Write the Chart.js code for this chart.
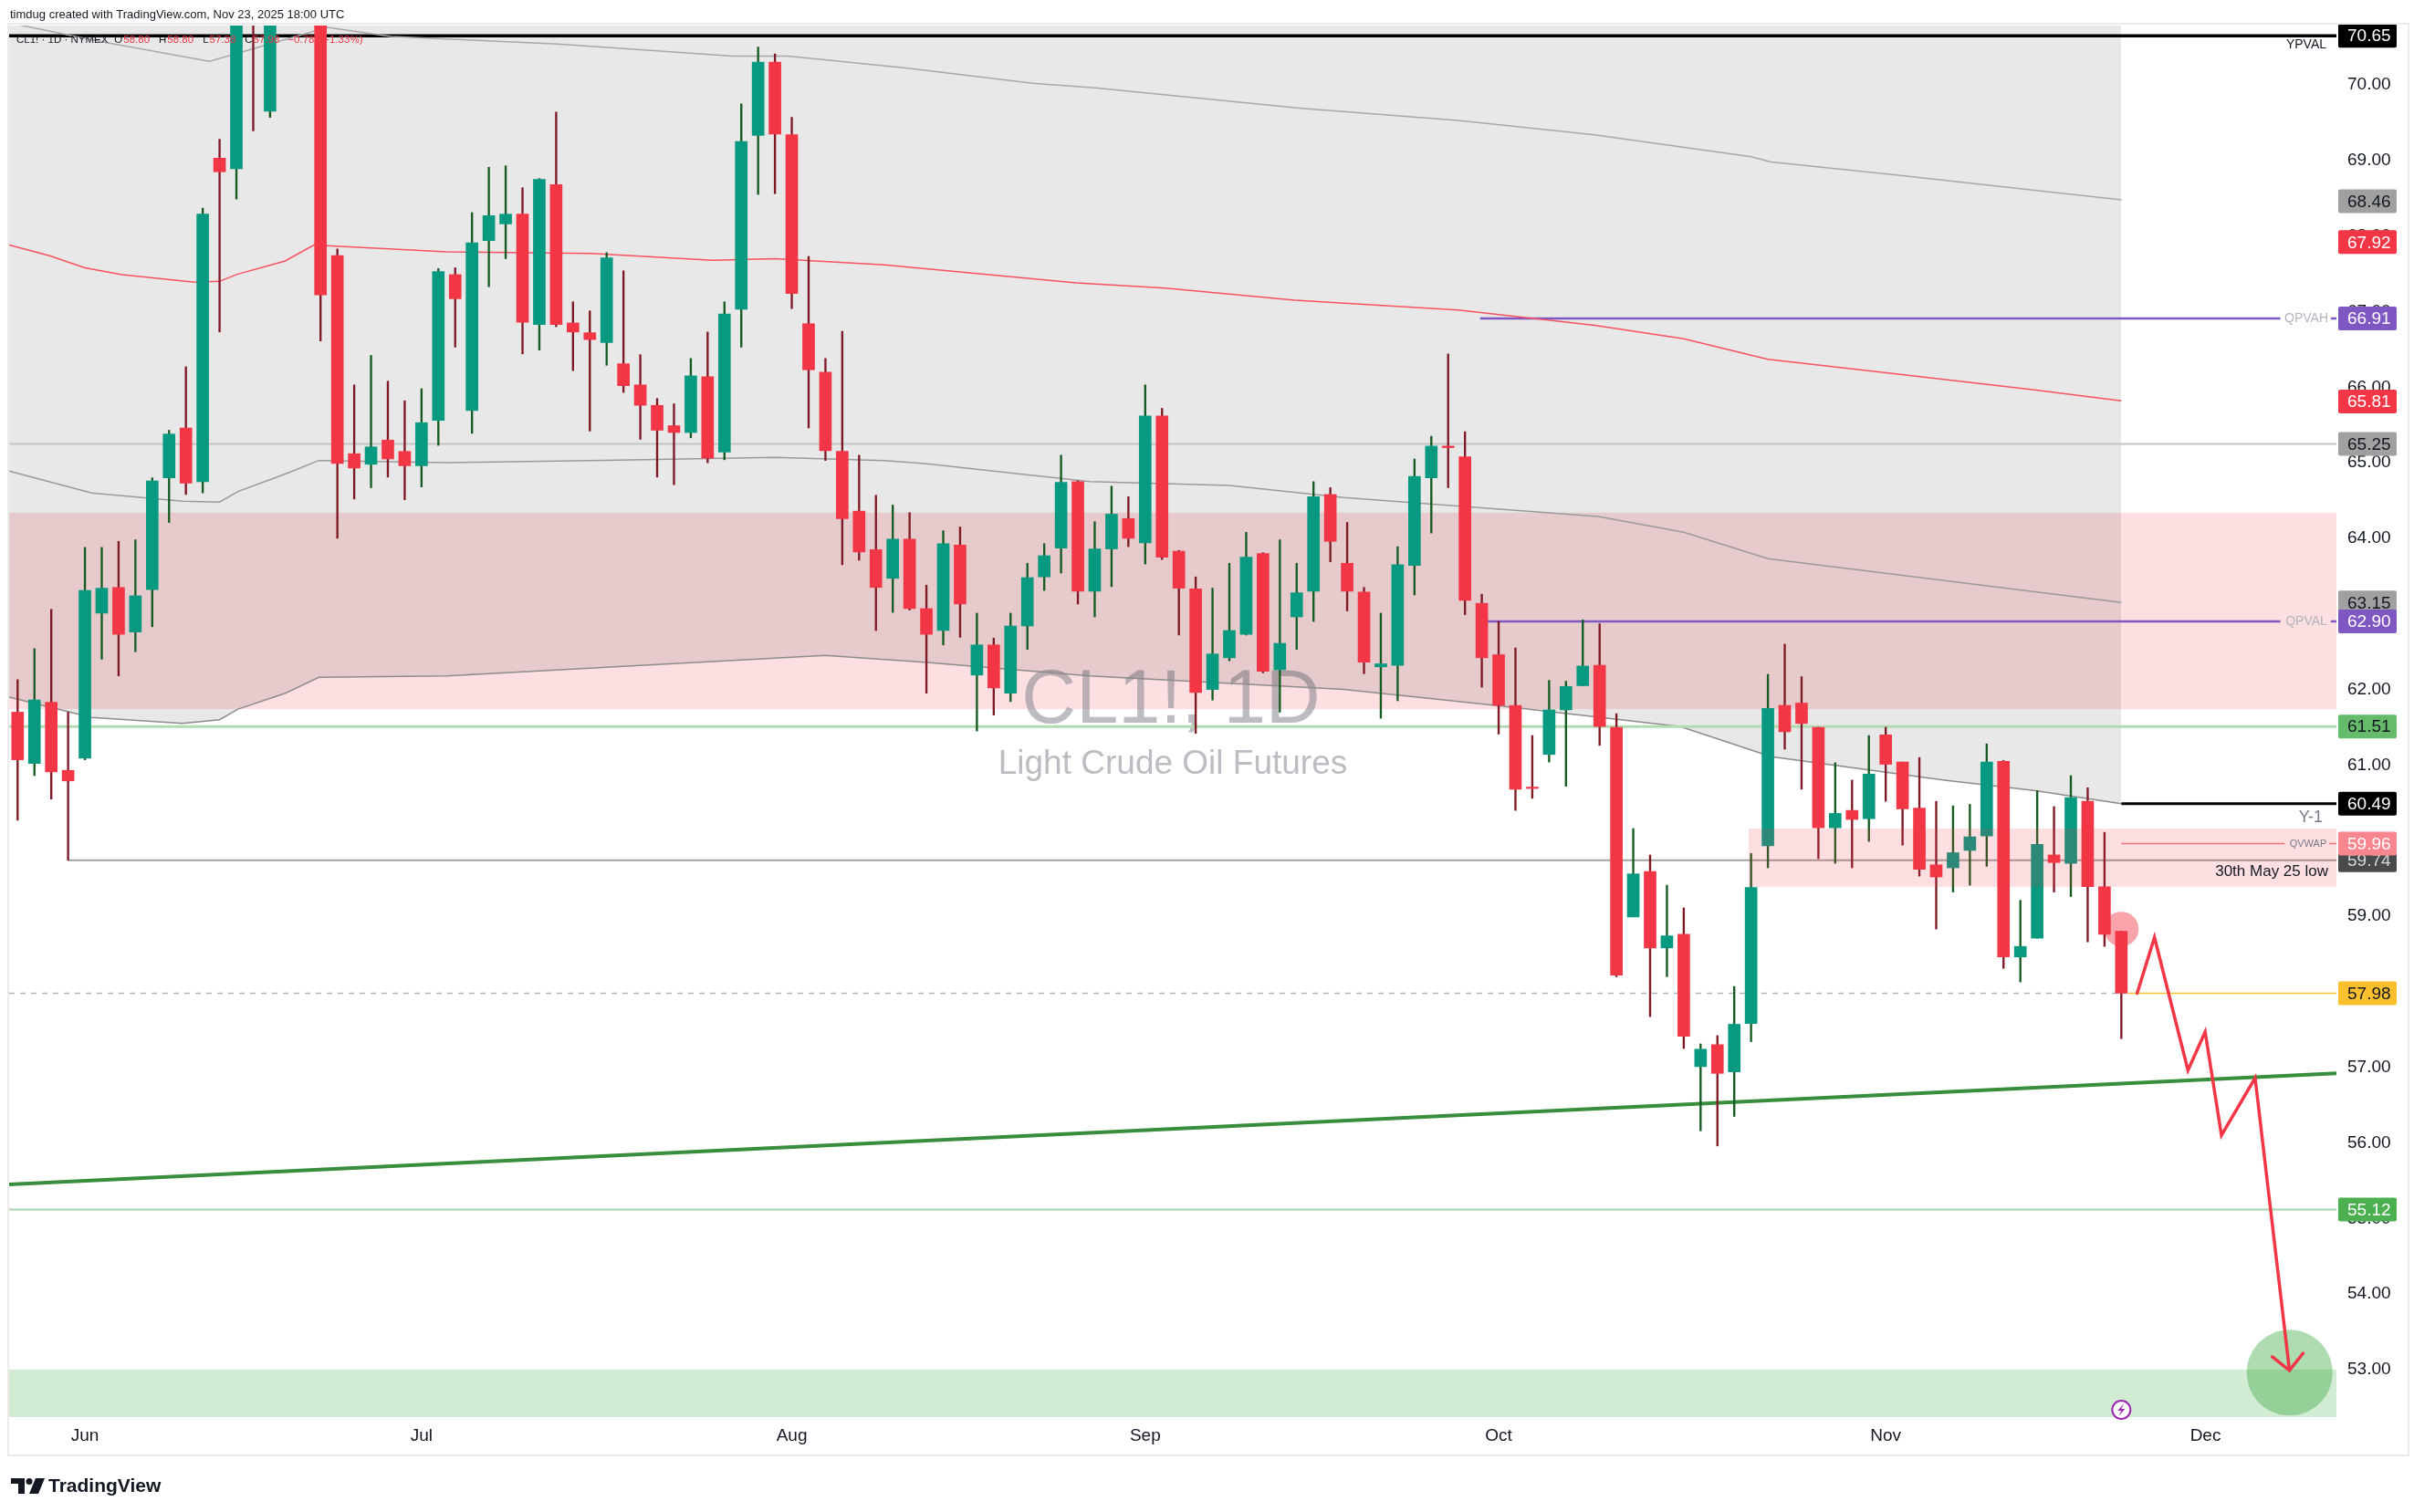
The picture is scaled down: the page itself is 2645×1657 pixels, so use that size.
<!DOCTYPE html>
<html>
<head>
<meta charset="utf-8">
<title>CL1! 1D - Light Crude Oil Futures</title>
<script src="https://cdn.jsdelivr.net/npm/chart.js@4.4.1/dist/chart.umd.min.js"></script>
<style>
  html, body { margin: 0; padding: 0; background: #ffffff; }
  canvas { display: block; }
</style>
</head>
<body>
<canvas id="chart" width="2645" height="1657"></canvas>
<script>
// daily bars, CL1! (NYMEX)
const dates = [
  '2025-05-27','2025-05-28','2025-05-29','2025-05-30',
  '2025-06-02','2025-06-03','2025-06-04','2025-06-05','2025-06-06','2025-06-09','2025-06-10','2025-06-11','2025-06-12','2025-06-13',
  '2025-06-16','2025-06-17','2025-06-18','2025-06-20','2025-06-23','2025-06-24','2025-06-25','2025-06-26','2025-06-27','2025-06-30',
  '2025-07-01','2025-07-02','2025-07-03','2025-07-07','2025-07-08','2025-07-09','2025-07-10','2025-07-11','2025-07-14','2025-07-15','2025-07-16',
  '2025-07-17','2025-07-18','2025-07-21','2025-07-22','2025-07-23','2025-07-24','2025-07-25','2025-07-28','2025-07-29','2025-07-30','2025-07-31',
  '2025-08-01','2025-08-04','2025-08-05','2025-08-06','2025-08-07','2025-08-08','2025-08-11','2025-08-12','2025-08-13','2025-08-14','2025-08-15',
  '2025-08-18','2025-08-19','2025-08-20','2025-08-21','2025-08-22','2025-08-25','2025-08-26','2025-08-27','2025-08-28','2025-08-29',
  '2025-09-02','2025-09-03','2025-09-04','2025-09-05','2025-09-08','2025-09-09','2025-09-10','2025-09-11','2025-09-12','2025-09-15','2025-09-16',
  '2025-09-17','2025-09-18','2025-09-19','2025-09-22','2025-09-23','2025-09-24','2025-09-25','2025-09-26','2025-09-29','2025-09-30',
  '2025-10-01','2025-10-02','2025-10-03','2025-10-06','2025-10-07','2025-10-08','2025-10-09','2025-10-10','2025-10-13','2025-10-14','2025-10-15',
  '2025-10-16','2025-10-17','2025-10-20','2025-10-21','2025-10-22','2025-10-23','2025-10-24','2025-10-27','2025-10-28','2025-10-29','2025-10-30','2025-10-31',
  '2025-11-03','2025-11-04','2025-11-05','2025-11-06','2025-11-07','2025-11-10','2025-11-11','2025-11-12','2025-11-13','2025-11-14',
  '2025-11-17','2025-11-18','2025-11-19','2025-11-20','2025-11-21'
];
const futureDates = ['2025-11-24','2025-11-25','2025-11-26','2025-11-28','2025-12-01'];

const open = [
  61.70, 61.02, 61.83, 60.93,
  61.09, 63.01, 63.35, 62.76, 63.32, 64.80, 65.46, 64.75, 69.03, 68.89, 73.50, 69.65, 74.90, 75.10, 74.00, 67.74, 65.12, 64.98, 65.30, 65.15,
  64.96, 65.56, 67.49, 65.69, 67.94, 68.16, 68.29, 66.83, 68.68, 66.85, 66.72, 66.59, 66.31, 66.03, 65.76, 65.49, 65.40, 66.14, 65.14, 67.03, 69.33, 70.30,
  69.34, 66.84, 66.20, 65.15, 64.36, 63.85, 63.47, 63.99, 63.07, 62.78, 63.91, 62.19, 62.59, 61.95, 62.84, 63.49, 63.87, 64.75, 63.30, 63.86, 64.26,
  63.94, 65.62, 63.83, 63.33, 62.00, 62.42, 62.73, 63.80, 62.26, 62.96, 63.30, 64.58, 63.67, 63.29, 62.30, 62.32, 63.64, 64.80, 65.22, 65.08, 63.14,
  62.46, 61.79, 60.70, 61.14, 61.73, 62.05, 62.32, 61.50, 58.99, 59.59, 58.58, 58.76, 57.01, 57.30, 56.94, 57.58, 59.93, 61.79, 61.82, 61.50, 60.17, 60.40, 60.29,
  61.40, 61.04, 60.43, 59.68, 59.64, 59.87, 60.06, 61.05, 58.46, 58.71, 59.81, 59.70, 60.52, 59.39, 58.80
];
const high = [
  62.13, 62.54, 63.06, 61.70,
  63.88, 63.88, 63.96, 63.98, 64.80, 65.43, 66.27, 68.37, 69.28, 77.60, 73.90, 75.00, 75.70, 75.60, 78.40, 67.83, 66.03, 66.42, 66.08, 65.82,
  65.98, 67.57, 67.58, 68.31, 68.91, 68.93, 68.64, 68.76, 69.64, 67.13, 67.01, 67.78, 67.54, 66.43, 65.85, 65.78, 66.38, 66.73, 67.13, 69.75, 70.50, 70.41,
  69.57, 67.73, 66.38, 66.74, 65.10, 64.57, 64.44, 64.34, 63.38, 64.10, 64.15, 63.01, 62.68, 63.01, 63.67, 63.93, 65.10, 64.76, 64.22, 64.69, 64.55,
  66.03, 65.72, 63.84, 63.49, 63.34, 63.67, 64.08, 63.81, 63.98, 63.67, 64.75, 64.67, 64.21, 63.35, 63.01, 63.89, 65.05, 65.35, 66.44, 65.41, 63.26,
  62.90, 62.55, 61.39, 62.12, 62.11, 62.92, 62.87, 61.68, 60.16, 59.81, 59.41, 59.11, 57.31, 57.42, 58.07, 59.83, 62.20, 62.60, 62.17, 61.50, 61.03, 60.80, 61.39,
  61.50, 61.04, 61.10, 60.52, 60.46, 60.48, 61.28, 61.06, 59.21, 60.66, 60.45, 60.86, 60.70, 60.11, 58.80
];
const low = [
  60.27, 60.86, 60.55, 59.74,
  61.07, 62.40, 62.18, 62.50, 62.83, 64.21, 64.58, 64.60, 66.73, 68.49, 69.39, 69.57, 73.20, 72.90, 66.61, 64.00, 64.52, 64.67, 64.81, 64.51,
  64.68, 65.23, 66.53, 65.39, 67.33, 67.70, 66.44, 66.49, 66.80, 66.22, 65.42, 66.29, 65.93, 65.31, 64.81, 64.71, 65.33, 65.00, 65.04, 66.53, 68.55, 68.56,
  67.04, 65.46, 65.03, 63.65, 63.71, 62.78, 63.02, 63.05, 61.95, 62.59, 62.69, 61.45, 61.66, 61.84, 62.53, 63.31, 63.54, 63.13, 62.96, 63.36, 63.89,
  63.66, 63.72, 62.72, 61.42, 61.86, 62.38, 62.72, 62.22, 61.70, 62.53, 62.90, 63.69, 63.04, 62.21, 61.62, 61.85, 63.25, 64.07, 64.67, 62.99, 62.03,
  61.41, 60.40, 60.56, 61.04, 60.72, 62.05, 61.26, 58.20, 58.99, 57.67, 58.20, 57.25, 56.16, 55.96, 56.35, 57.34, 59.64, 61.21, 60.68, 59.76, 59.70, 59.64, 59.99,
  60.52, 59.94, 59.53, 58.83, 59.32, 59.41, 59.66, 58.31, 58.13, 58.71, 59.32, 59.26, 58.66, 58.60, 57.38
];
const close = [
  61.07, 61.86, 60.91, 60.79,
  63.31, 63.34, 62.73, 63.24, 64.76, 65.38, 64.73, 68.29, 68.85, 72.98, 71.00, 74.84, 75.14, 73.84, 67.22, 64.99, 64.93, 65.21, 65.05, 64.96,
  65.53, 67.53, 67.17, 67.91, 68.27, 68.29, 66.86, 68.75, 66.83, 66.73, 66.63, 67.71, 66.02, 65.76, 65.43, 65.40, 66.15, 65.06, 66.97, 69.25, 70.30, 69.35,
  67.24, 66.23, 65.16, 64.26, 63.82, 63.35, 63.99, 63.07, 62.73, 63.93, 63.13, 62.59, 62.02, 62.84, 63.48, 63.77, 64.74, 63.30, 63.86, 64.32, 64.00,
  65.62, 63.75, 63.34, 61.96, 62.47, 62.78, 63.75, 62.24, 62.61, 63.28, 64.55, 63.96, 63.30, 62.36, 62.34, 63.65, 64.82, 65.22, 65.20, 63.18, 62.42,
  61.79, 60.68, 60.69, 61.73, 62.04, 62.31, 61.51, 58.22, 59.56, 58.58, 58.74, 57.41, 57.24, 56.92, 57.57, 59.38, 61.75, 61.44, 61.55, 60.17, 60.36, 60.28, 60.88,
  61.01, 60.42, 59.62, 59.52, 59.84, 60.05, 61.04, 58.46, 58.60, 59.95, 59.71, 60.57, 59.39, 58.76, 57.98
];

const monthKeys = ['06', '07', '08', '09', '10', '11', '12'];
const monthLabels = ['Jun', 'Jul', 'Aug', 'Sep', 'Oct', 'Nov', 'Dec'];
const priceTicks = [53, 54, 55, 56, 57, 58, 59, 60, 61, 62, 63, 64, 65, 66, 67, 68, 69, 70];

// indicator curves as [bar index, price]
const upperBand = [[-0.5, 70.82], [5, 70.57], [11.4, 70.31], [18.4, 70.76], [22.2, 70.64], [32.1, 70.54], [42.5, 70.38], [45.8, 70.38],
  [52.9, 70.22], [60.3, 70.02], [64, 69.96], [76.3, 69.69], [85.6, 69.53], [93.7, 69.34], [103, 69.05], [104.2, 68.98], [111.5, 68.81], [125, 68.48]];
const midBand = [[-0.5, 64.89], [4.4, 64.60], [9.8, 64.49], [12, 64.48], [13.1, 64.62], [15.9, 64.85], [17.9, 65.03], [25.5, 65.00], [34, 65.03],
  [45, 65.07], [51.5, 65.03], [53.9, 64.99], [63.7, 64.75], [72, 64.70], [78.8, 64.54], [93.9, 64.29], [99, 64.08], [104, 63.73], [125, 63.15]];
const lowerBand = [[-0.5, 61.90], [4.4, 61.63], [9.8, 61.55], [12, 61.60], [13.1, 61.74], [15.9, 61.95], [17.9, 62.16], [25.5, 62.18], [48, 62.45],
  [53.9, 62.36], [63.7, 62.18], [78.8, 62.00], [87.8, 61.79], [98.8, 61.51], [104.2, 61.11], [114.5, 60.80], [119.9, 60.66], [125, 60.49]];
const redMA = [[-0.5, 67.88], [1.9, 67.74], [4, 67.58], [6.2, 67.49], [10.5, 67.39], [12, 67.40], [13, 67.49], [15.9, 67.67], [17.6, 67.88],
  [25.5, 67.79], [34.1, 67.77], [41.3, 67.68], [45, 67.70], [51.5, 67.62], [62.9, 67.38], [68.2, 67.31], [75.9, 67.15], [85.6, 67.02],
  [93.7, 66.82], [99, 66.64], [104, 66.37], [111.5, 66.18], [119.6, 65.97], [125, 65.82]];

// drawn levels
const YPVAL = 70.65, QPVAH = 66.91, LEVEL_6525 = 65.25, QPVAL = 62.90, SUPPORT_HI = 61.51;
const Y1 = 60.49, QVWAP = 59.96, MAY30_LOW = 59.74, SUPPORT_LO = 55.12;
const lastClose = close[close.length - 1];

const supplyZone = [61.74, 64.34];
const vwapZone = [59.39, 60.16];
const targetTop = 53.0;
const trendLine = [[-0.5, 55.45], [137.78, 56.92]];

// projected path (bar index, price)
const pathX = [125.94, 126.97, 128.96, 129.98, 130.95, 132.95, 134.99];
const pathY = [57.98, 58.72, 56.96, 57.47, 56.10, 56.86, 52.99];
const pinkDot = [125.0, 58.83];
const targetDot = [135.0, 52.96];

const tagValues = [70.65, 68.46, 67.92, 66.91, 65.81, 65.25, 63.15, 62.90, 61.51, 60.49, 59.74, 59.96, 57.98, 55.12];

// ---- styles ----
const UP = '#089981', DOWN = '#f23645';
const UP_WICK = '#165c22', DOWN_WICK = '#7f1a24';
const tagStyle = {
  '70.65': ['#000000', '#ffffff'], '68.46': ['#a0a0a0', '#131722'], '67.92': ['#f23645', '#ffffff'],
  '66.91': ['#7e57c2', '#ffffff'], '65.81': ['#f23645', '#ffffff'], '65.25': ['#a0a0a0', '#131722'],
  '63.15': ['#a0a0a0', '#131722'], '62.90': ['#7e57c2', '#ffffff'], '61.51': ['#66bb6a', '#131722'],
  '60.49': ['#000000', '#ffffff'], '59.74': ['#4a4a4a', '#d8d8d8'], '59.96': ['#f7868e', '#ffffff'],
  '57.98': ['#fbc02d', '#131722'], '55.12': ['#4caf50', '#ffffff']
};
const FONT = '"Liberation Sans", Arial, sans-serif';
const X_MIN = -0.504, X_MAX = 137.78, Y_MIN = 52.372, Y_MAX = 70.785;

const allDates = dates.concat(futureDates);
const monthTickIdx = monthKeys.map(m => allDates.findIndex(d => d.slice(5, 7) === m));

function pts(arr) { return arr.map(p => ({x: p[0], y: p[1]})); }
function seg(y, x0, x1) { return [{x: x0, y: y}, {x: x1, y: y}]; }
function lineDs(data, color, width, extra) {
  return Object.assign({
    type: 'line', data: data, borderColor: color, borderWidth: width,
    pointRadius: 0, fill: false, tension: 0, clip: 0, order: 5
  }, extra || {});
}

const datasets = [
  lineDs(pts(lowerBand), '#8c8c8c', 1.5, {fill: 'end', backgroundColor: 'rgba(0,0,0,0.09)', order: 10}),
  lineDs(pts(midBand), '#9a9a9a', 1.5),
  lineDs(pts(upperBand), '#a8a8a8', 1.5),
  lineDs(pts(redMA), '#f7525f', 1.5),
  lineDs(seg(LEVEL_6525, X_MIN, X_MAX), '#c4c4c4', 2),
  lineDs(seg(SUPPORT_HI, X_MIN, X_MAX), '#b2dbb3', 3),
  lineDs(seg(SUPPORT_LO, X_MIN, X_MAX), '#a5d6a7', 2),
  lineDs(seg(MAY30_LOW, 3, X_MAX), '#a2a2a2', 2),
  lineDs(seg(YPVAL, X_MIN, X_MAX), '#000000', 3.5),
  lineDs([...seg(QPVAH, 86.9, 134.45), {x: 136, y: null}, ...seg(QPVAH, 137.45, X_MAX)], '#7e57c2', 2.5),
  lineDs([...seg(QPVAL, 87.3, 134.45), {x: 136, y: null}, ...seg(QPVAL, 137.45, X_MAX)], '#7e57c2', 2.5),
  lineDs(seg(Y1, 125, X_MAX), '#000000', 3),
  lineDs([...seg(QVWAP, 125, 134.7), {x: 136, y: null}, ...seg(QVWAP, 137.35, X_MAX)], '#f77c80', 1.5),
  lineDs(seg(lastClose, X_MIN, 125.3), '#b2b5be', 1.5, {borderDash: [6, 6]}),
  lineDs(seg(lastClose, 125.4, X_MAX), '#fbc02d', 1.5),
  lineDs(pts(trendLine), '#388e3c', 4),
  {
    type: 'bar',
    data: low.map((l, i) => ({x: i, y: [l, high[i]]})),
    backgroundColor: ctx => close[ctx.dataIndex] >= open[ctx.dataIndex] ? UP_WICK : DOWN_WICK,
    barThickness: 1.7, grouped: false, clip: 0, order: 2
  },
  {
    type: 'bar',
    data: open.map((o, i) => ({x: i, y: [o, close[i]]})),
    backgroundColor: ctx => close[ctx.dataIndex] >= open[ctx.dataIndex] ? UP : DOWN,
    barThickness: 13, grouped: false, minBarLength: 1.5, clip: 0, order: 1
  },
  lineDs(pathX.map((x, i) => ({x: x, y: pathY[i]})), '#f23645', 3.5, {order: 0, borderCapStyle: 'round', borderJoinStyle: 'miter'})
];

function roundRect(ctx, x, y, w, h, r) {
  ctx.beginPath();
  ctx.moveTo(x + r, y);
  ctx.arcTo(x + w, y, x + w, y + h, r);
  ctx.arcTo(x + w, y + h, x, y + h, r);
  ctx.arcTo(x, y + h, x, y, r);
  ctx.arcTo(x, y, x + w, y, r);
  ctx.closePath();
}

const overlay = {
  id: 'overlay',
  beforeDraw(chart) {
    const ctx = chart.ctx;
    ctx.save();
    ctx.fillStyle = '#ffffff';
    ctx.fillRect(0, 0, chart.width, chart.height);
    ctx.restore();
  },
  beforeDatasetsDraw(chart) {
    const {ctx, chartArea: a, scales: {x, y}} = chart;
    ctx.save();
    // supply zone
    const zt = y.getPixelForValue(supplyZone[1]), zb = y.getPixelForValue(supplyZone[0]);
    ctx.fillStyle = 'rgba(242,54,69,0.16)';
    ctx.fillRect(a.left, zt, a.width, zb - zt);
    // target zone
    const tt = y.getPixelForValue(targetTop);
    ctx.fillStyle = 'rgba(76,175,80,0.25)';
    ctx.fillRect(a.left, tt, a.width, a.bottom - tt);
    // watermark
    const cx = (a.left + a.right) / 2;
    ctx.fillStyle = 'rgba(120,123,134,0.5)';
    ctx.textAlign = 'center';
    ctx.textBaseline = 'alphabetic';
    ctx.font = '83px ' + FONT;
    ctx.fillText('CL1!, 1D', cx - 2, 792);
    ctx.font = '37px ' + FONT;
    ctx.fillText('Light Crude Oil Futures', cx, 848);
    // markers
    ctx.fillStyle = 'rgba(242,54,69,0.45)';
    ctx.beginPath();
    ctx.arc(x.getPixelForValue(pinkDot[0]), y.getPixelForValue(pinkDot[1]), 19, 0, Math.PI * 2);
    ctx.fill();
    ctx.fillStyle = 'rgba(76,175,80,0.45)';
    ctx.beginPath();
    ctx.arc(x.getPixelForValue(targetDot[0]), y.getPixelForValue(targetDot[1]), 47, 0, Math.PI * 2);
    ctx.fill();
    ctx.restore();
  },
  afterDatasetsDraw(chart) {
    const {ctx, chartArea: a, scales: {x, y}} = chart;
    ctx.save();
    // QVWAP band drawn above the candles
    const vt = y.getPixelForValue(vwapZone[1]), vb = y.getPixelForValue(vwapZone[0]);
    const vl = x.getPixelForValue(102.85);
    ctx.fillStyle = 'rgba(242,54,69,0.16)';
    ctx.fillRect(vl, vt, a.right - vl, vb - vt);

    // arrow head at the end of the projected path
    const n = pathX.length;
    const tx = x.getPixelForValue(pathX[n - 1]), ty = y.getPixelForValue(pathY[n - 1]);
    const px = x.getPixelForValue(pathX[n - 2]), py = y.getPixelForValue(pathY[n - 2]);
    const ang = Math.atan2(py - ty, px - tx);
    ctx.strokeStyle = '#f23645';
    ctx.lineWidth = 3.5;
    ctx.lineCap = 'round';
    ctx.beginPath();
    ctx.moveTo(tx + 24 * Math.cos(ang + Math.PI / 4), ty + 24 * Math.sin(ang + Math.PI / 4));
    ctx.lineTo(tx, ty);
    ctx.lineTo(tx + 24 * Math.cos(ang - Math.PI / 4), ty + 24 * Math.sin(ang - Math.PI / 4));
    ctx.stroke();

    // inline labels
    ctx.textBaseline = 'middle';
    ctx.textAlign = 'right';
    ctx.fillStyle = '#131722';
    ctx.font = '14px ' + FONT;
    ctx.fillText('YPVAL', a.right - 11, y.getPixelForValue(YPVAL) + 10);
    ctx.textAlign = 'center';
    ctx.fillStyle = '#b2b5be';
    ctx.fillText('QPVAH', a.right - 33, y.getPixelForValue(QPVAH));
    ctx.fillText('QPVAL', a.right - 33, y.getPixelForValue(QPVAL));
    ctx.fillStyle = '#787b86';
    ctx.font = '11px ' + FONT;
    ctx.fillText('QVWAP', a.right - 31, y.getPixelForValue(QVWAP));
    ctx.textAlign = 'right';
    ctx.font = '18px ' + FONT;
    ctx.fillText('Y-1', a.right - 15, y.getPixelForValue(Y1) + 15);
    ctx.fillStyle = '#131722';
    ctx.font = '17px ' + FONT;
    ctx.fillText('30th May 25 low', a.right - 9, y.getPixelForValue(MAY30_LOW) + 13);

    // event marker on the last bar
    const ex = x.getPixelForValue(125), ey = a.bottom - 8;
    ctx.strokeStyle = '#9c27b0';
    ctx.fillStyle = '#ffffff';
    ctx.lineWidth = 2;
    ctx.beginPath();
    ctx.arc(ex, ey, 10, 0, Math.PI * 2);
    ctx.fill();
    ctx.stroke();
    ctx.fillStyle = '#9c27b0';
    ctx.beginPath();
    ctx.moveTo(ex + 3, ey - 7);
    ctx.lineTo(ex - 4, ey + 1);
    ctx.lineTo(ex, ey + 1);
    ctx.lineTo(ex - 3, ey + 7);
    ctx.lineTo(ex + 4, ey - 1);
    ctx.lineTo(ex, ey - 1);
    ctx.closePath();
    ctx.fill();
    ctx.restore();
  },
  afterDraw(chart) {
    const {ctx, chartArea: a, scales: {y}} = chart;
    ctx.save();
    // price tags on the right axis
    ctx.font = '19px ' + FONT;
    ctx.textBaseline = 'middle';
    ctx.textAlign = 'left';
    tagValues.forEach(v => {
      const label = v.toFixed(2);
      const [bg, fg] = tagStyle[label];
      const py = y.getPixelForValue(v);
      ctx.fillStyle = bg;
      roundRect(ctx, a.right + 2, py - 13, 64, 26, 2);
      ctx.fill();
      ctx.fillStyle = fg;
      ctx.fillText(label, a.right + 12, py + 1);
    });

    // header line
    ctx.fillStyle = '#131722';
    ctx.font = '13px ' + FONT;
    ctx.fillText('timdug created with TradingView.com, Nov 23, 2025 18:00 UTC', 11, 16);

    // symbol legend
    const last = close.length - 1;
    const chg = close[last] - close[last - 1];
    const pct = chg / close[last - 1] * 100;
    const items = [
      ['CL1! \u00b7 1D \u00b7 NYMEX', '#131722', 7],
      ['O', '#131722', 1], [open[last].toFixed(2), DOWN, 10],
      ['H', '#131722', 1], [high[last].toFixed(2), DOWN, 10],
      ['L', '#131722', 1], [low[last].toFixed(2), DOWN, 10],
      ['C', '#131722', 1], [close[last].toFixed(2), DOWN, 9],
      ['\u2212' + Math.abs(chg).toFixed(2), DOWN, 6],
      ['(\u2212' + Math.abs(pct).toFixed(2) + '%)', DOWN, 0]
    ];
    ctx.font = '11.5px ' + FONT;
    let lx = 18;
    items.forEach(([t, c, gap]) => {
      ctx.fillStyle = c;
      ctx.fillText(t, lx, 44);
      lx += ctx.measureText(t).width + gap;
    });

    // outer frame
    ctx.strokeStyle = '#ebebeb';
    ctx.lineWidth = 2;
    ctx.strokeRect(9, 26, 2630, 1569);

    // TradingView logo
    ctx.fillStyle = '#131722';
    ctx.fillRect(12, 1620, 15, 6);
    ctx.fillRect(20, 1620, 7, 17);
    ctx.beginPath();
    ctx.arc(32, 1623.5, 3.5, 0, Math.PI * 2);
    ctx.fill();
    ctx.beginPath();
    ctx.moveTo(39, 1620);
    ctx.lineTo(49, 1620);
    ctx.lineTo(42, 1637);
    ctx.lineTo(32, 1637);
    ctx.closePath();
    ctx.fill();
    ctx.font = 'bold 21px ' + FONT;
    ctx.fillText('TradingView', 53, 1629);
    ctx.restore();
  }
};

Chart.defaults.font.family = FONT;

new Chart(document.getElementById('chart'), {
  type: 'bar',
  data: { datasets: datasets },
  options: {
    responsive: false,
    animation: false,
    devicePixelRatio: 1,
    events: [],
    layout: { padding: { left: 10, top: 28, right: 7, bottom: 62 } },
    plugins: { legend: { display: false }, tooltip: { enabled: false } },
    scales: {
      x: {
        type: 'linear', min: X_MIN, max: X_MAX, offset: false,
        grid: { display: false, drawTicks: false }, border: { display: false },
        afterBuildTicks: s => { s.ticks = monthTickIdx.map(v => ({ value: v })); },
        afterFit: s => { s.height = 42; },
        ticks: {
          autoSkip: false, maxRotation: 0, padding: 9, color: '#131722', font: { size: 19 },
          callback: (v, i) => monthLabels[i]
        }
      },
      y: {
        type: 'linear', position: 'right', min: Y_MIN, max: Y_MAX,
        grid: { display: false, drawTicks: false }, border: { display: false },
        afterBuildTicks: s => { s.ticks = priceTicks.map(v => ({ value: v })); },
        afterFit: s => { s.width = 78; },
        ticks: { padding: 12, color: '#131722', font: { size: 19 }, callback: v => v.toFixed(2) }
      }
    }
  },
  plugins: [overlay]
});
</script>
</body>
</html>
